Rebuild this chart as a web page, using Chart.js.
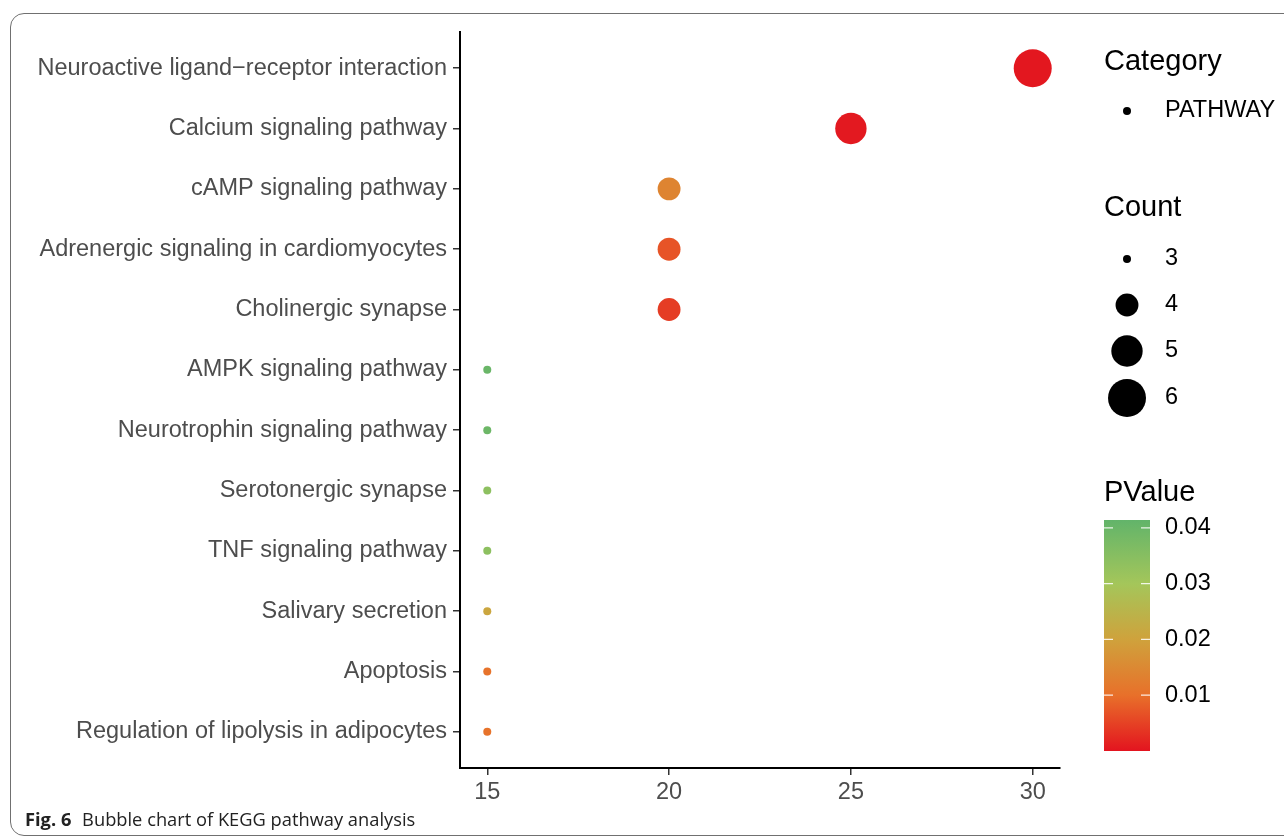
<!DOCTYPE html>
<html>
<head>
<meta charset="utf-8">
<script src="https://cdn.jsdelivr.net/npm/chart.js@4/dist/chart.umd.min.js"></script>
<style>
  html, body { margin: 0; padding: 0; background: #fff; }
  #wrap { position: relative; width: 1284px; height: 839px; overflow: hidden; }
  #frame {
    position: absolute; left: 10px; top: 13px; width: 1400px; height: 823px;
    border: 1.5px solid #707070; border-radius: 14px; box-sizing: border-box;
  }
  #chart { position: absolute; left: 0; top: 0; }
  #caption {
    position: absolute; left: 25px; top: 806px;
    font-family: 'Open Sans', 'Noto Sans', sans-serif; font-size: 18.3px; color: #222;
  }
  #caption b { font-weight: 700; margin-right: 6px; }
</style>
</head>
<body>
<div id="wrap">
  <div id="frame"></div>
  <canvas id="chart" width="1284" height="839"></canvas>
  <div id="caption"><b>Fig. 6</b> Bubble chart of KEGG pathway analysis</div>
</div>
<script>
// Dữ liệu
const pathways = [
    'Neuroactive ligand\u2212receptor interaction',
    'Calcium signaling pathway',
    'cAMP signaling pathway',
    'Adrenergic signaling in cardiomyocytes',
    'Cholinergic synapse',
    'AMPK signaling pathway',
    'Neurotrophin signaling pathway',
    'Serotonergic synapse',
    'TNF signaling pathway',
    'Salivary secretion',
    'Apoptosis',
    'Regulation of lipolysis in adipocytes'
];
const xValues = [30, 25, 20, 20, 20, 15, 15, 15, 15, 15, 15, 15];
const counts = [6, 5, 4, 4, 4, 3, 3, 3, 3, 3, 3, 3];
const pValues = [0.0003, 0.0005, 0.014, 0.007, 0.0045, 0.040, 0.0395, 0.034, 0.034, 0.021, 0.0105, 0.0105];
const xTicks = [15, 20, 25, 30];
const countLevels = [3, 4, 5, 6];
const pTicks = [0.04, 0.03, 0.02, 0.01];

const FONT = "'Liberation Sans', Arial, Helvetica, sans-serif";
const LABEL_SIZE = 23.5;
const TITLE_SIZE = 29;

// Thang màu PValue (đỏ -> cam -> vàng -> xanh)
const pMin = 0, pMax = 0.0414;
const colorStops = [
    [0.0, [227, 20, 31]],
    [0.01, [232, 112, 42]],
    [0.02, [207, 162, 60]],
    [0.03, [164, 198, 90]],
    [0.0414, [98, 180, 106]]
];
function pColor(p) {
    for (let i = 1; i < colorStops.length; i++) {
        if (p <= colorStops[i][0] || i === colorStops.length - 1) {
            const [p0, c0] = colorStops[i - 1];
            const [p1, c1] = colorStops[i];
            const t = Math.max(0, Math.min(1, (p - p0) / (p1 - p0)));
            const c = c0.map((v, k) => Math.round(v + (c1[k] - v) * t));
            return `rgb(${c[0]}, ${c[1]}, ${c[2]})`;
        }
    }
}

// Kích thước bong bóng theo Count (diện tích tuyến tính)
const rMin = 4, rMax = 19, cMin = 3, cMax = 6;
function countRadius(c) {
    const t = (c - cMin) / (cMax - cMin);
    return Math.sqrt(rMin * rMin + t * (rMax * rMax - rMin * rMin));
}

const bubbleData = pathways.map((name, i) => ({
    x: xValues[i],
    y: i,
    r: countRadius(counts[i])
}));

// Vẽ chú thích bên phải
const legendPlugin = {
    id: 'sideLegend',
    afterDraw(chart) {
        const ctx = chart.ctx;
        ctx.save();
        ctx.textBaseline = 'middle';
        ctx.textAlign = 'left';
        const cx = 1127, tx = 1165, titleX = 1104;

        ctx.fillStyle = '#000';
        ctx.font = `${TITLE_SIZE}px ${FONT}`;
        ctx.fillText('Category', titleX, 62);
        ctx.font = `${LABEL_SIZE}px ${FONT}`;
        ctx.beginPath();
        ctx.arc(cx, 111, rMin, 0, Math.PI * 2);
        ctx.fill();
        ctx.fillText('PATHWAY', tx, 111);

        ctx.font = `${TITLE_SIZE}px ${FONT}`;
        ctx.fillText('Count', titleX, 208);
        ctx.font = `${LABEL_SIZE}px ${FONT}`;
        const countY = [259, 305, 351, 398];
        countLevels.forEach((c, i) => {
            ctx.beginPath();
            ctx.arc(cx, countY[i], countRadius(c), 0, Math.PI * 2);
            ctx.fill();
            ctx.fillText(String(c), tx, countY[i]);
        });

        ctx.font = `${TITLE_SIZE}px ${FONT}`;
        ctx.fillText('PValue', titleX, 493);

        // Thanh màu
        const barX = 1104, barW = 46, barTop = 520, barBot = 751;
        const pToY = p => barBot - (p - pMin) / (pMax - pMin) * (barBot - barTop);
        const grad = ctx.createLinearGradient(0, barBot, 0, barTop);
        colorStops.forEach(([p, c]) => {
            grad.addColorStop((p - pMin) / (pMax - pMin), `rgb(${c[0]}, ${c[1]}, ${c[2]})`);
        });
        ctx.fillStyle = grad;
        ctx.fillRect(barX, barTop, barW, barBot - barTop);

        ctx.font = `${LABEL_SIZE}px ${FONT}`;
        pTicks.forEach(p => {
            const y = pToY(p);
            ctx.strokeStyle = 'rgba(255,255,255,0.85)';
            ctx.lineWidth = 1.2;
            ctx.beginPath();
            ctx.moveTo(barX, y); ctx.lineTo(barX + 9, y);
            ctx.moveTo(barX + barW - 9, y); ctx.lineTo(barX + barW, y);
            ctx.stroke();
            ctx.fillStyle = '#000';
            ctx.fillText(p.toFixed(2), tx, y);
        });
        ctx.restore();
    }
};

new Chart(document.getElementById('chart'), {
    type: 'bubble',
    data: {
        datasets: [{
            data: bubbleData,
            backgroundColor: pValues.map(pColor),
            borderWidth: 0,
            hoverBorderWidth: 0
        }]
    },
    options: {
        responsive: false,
        animation: false,
        events: [],
        clip: false,
        layout: { padding: { top: 32, right: 224, bottom: 0, left: 0 } },
        plugins: {
            legend: { display: false },
            tooltip: { enabled: false }
        },
        scales: {
            x: {
                type: 'linear',
                min: 14.25,
                max: 30.75,
                afterBuildTicks: scale => { scale.ticks = xTicks.map(v => ({ value: v })); },
                afterFit: scale => { scale.height = 71; },
                grid: { drawOnChartArea: false, drawTicks: true, tickLength: 7, color: '#333', lineWidth: 1.5 },
                border: { display: true, color: '#000', width: 2 },
                ticks: {
                    padding: 3,
                    color: '#4d4d4d',
                    font: { family: FONT, size: LABEL_SIZE },
                    callback: v => String(v)
                }
            },
            y: {
                type: 'linear',
                reverse: true,
                min: -0.6,
                max: pathways.length - 1 + 0.6,
                afterBuildTicks: scale => { scale.ticks = pathways.map((_, i) => ({ value: i })); },
                afterFit: scale => { scale.width = 460; },
                grid: { drawOnChartArea: false, drawTicks: true, tickLength: 7, color: '#333', lineWidth: 1.5 },
                border: { display: true, color: '#000', width: 2 },
                ticks: {
                    padding: 6,
                    color: '#4d4d4d',
                    font: { family: FONT, size: LABEL_SIZE },
                    callback: v => pathways[v]
                }
            }
        }
    },
    plugins: [legendPlugin]
});
</script>
</body>
</html>
